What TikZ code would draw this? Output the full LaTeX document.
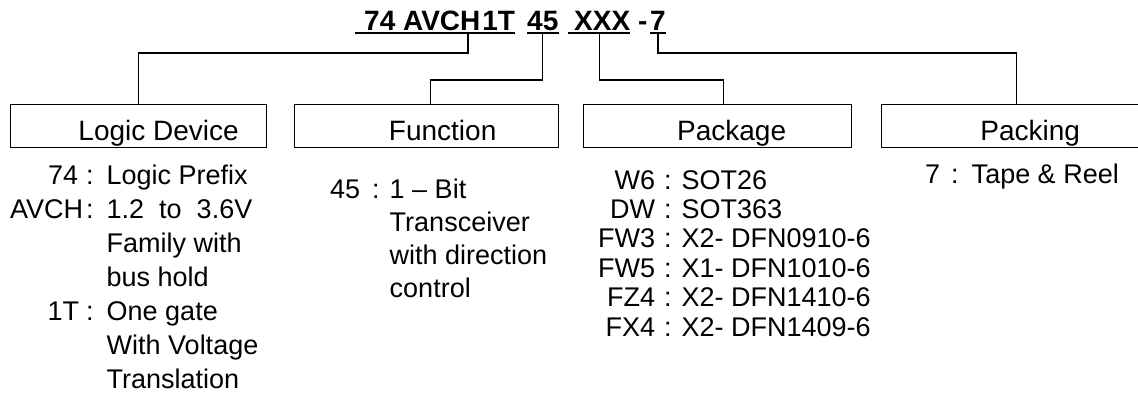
\documentclass[tikz,border=0pt]{standalone}
\usepackage{fontspec}
\setmainfont{Liberation Sans}
\usepackage{xcolor}

\begin{document}
\begin{tikzpicture}[x=1pt,y=-1pt]
        \tikzset{every node/.style={inner sep=0pt},
            part/.style={anchor=base west,font=\fontsize{28}{32}\selectfont\bfseries},
            field/.style={draw,line width=1.3pt,anchor=north west,minimum height=43pt,
                text height=32pt,text depth=3pt,inner ysep=4pt,
                font=\fontsize{28}{32}\selectfont},
            notes/.style={anchor=base west,font=\fontsize{27}{34}\selectfont},
            uline/.style={line width=2pt},
            link/.style={line width=1.3pt}}
        \useasboundingbox (0,0) rectangle (1138,392);
        \clip (0,0) rectangle (1138,392);
        % part number
        \node[part] (code) at (355,30) {\hspace*{9pt}74 AVCH\hspace{2pt}1T};
        \node[part] (fn45) at (527,30) {45};
        \node[part] (pkg) at (568,30) {\hspace*{6pt}XXX};
        \node[part] (dash) at (638,30) {-};
        \node[part] (pk7) at (650,30) {7};
        \foreach \n in {code,fn45,pkg,pk7}
            \draw[uline] ([yshift=-2.5pt]\n.base west) -- ([yshift=-2.5pt]\n.base east);
        % fields
        \node[field,minimum width=256pt] (logic) at (10,104) {\hspace*{40pt}Logic Device};
        \node[field,minimum width=264pt] (func) at (294,104) {\hspace*{32pt}Function};
        \node[field,minimum width=268pt] (pack) at (583,104) {\hspace*{28pt}Package};
        \node[field,minimum width=269pt] (reel) at (881,104) {\hspace*{28pt}Packing};
        % links
        \draw[link] ([xshift=33pt,yshift=-2.5pt]code.base) -- ++(0,20.5) -| (logic.north);
        \draw[link] ([yshift=-2.5pt]fn45.base) -- ++(0,47.5) -| ([xshift=4pt]func.north);
        \draw[link] ([yshift=-2.5pt]pkg.base) -- ++(0,47.5) -| ([xshift=6pt]pack.north);
        \draw[link] ([yshift=-2.5pt]pk7.base) -- ++(0,20.5) -| (reel.north);
        % notes
        \node[notes] (lognote) at (10,184) {\begin{tabular}[t]{@{}r@{\hspace{3pt}}c@{\hspace{13pt}}l@{}}
            74\hspace{5pt} & : & Logic Prefix\\
            AVCH & : & 1.2~~to~~3.6V\\
            & & Family with\\
            & & bus hold\\
            1T\hspace{4pt} & : & One gate\\
            & & With Voltage\\
            & & Translation
        \end{tabular}};
        \node[notes,font=\fontsize{27}{33}\selectfont] (fnnote) at (330,198) {\begin{tabular}[t]{@{}r@{\hspace{12pt}}c@{\hspace{10pt}}l@{}}
            45 & : & 1 – Bit\\
            & & Transceiver\\
            & & with direction\\
            & & control
        \end{tabular}};
        \node[notes,font=\fontsize{27}{29.4}\selectfont] (pknote) at (598,189) {\begin{tabular}[t]{@{}r@{\hspace{9pt}}c@{\hspace{10pt}}l@{}}
            W6 & : & SOT26\\
            DW & : & SOT363\\
            FW3 & : & X2- DFN0910-6\\
            FW5 & : & X1- DFN1010-6\\
            FZ4 & : & X2- DFN1410-6\\
            FX4 & : & X2- DFN1409-6
        \end{tabular}};
        \node[notes] (reelnote) at (925,183) {\begin{tabular}[t]{@{}r@{\hspace{11pt}}c@{\hspace{13pt}}l@{}}
            7 & : & Tape \& Reel
        \end{tabular}};
    \end{tikzpicture}
\end{document}
